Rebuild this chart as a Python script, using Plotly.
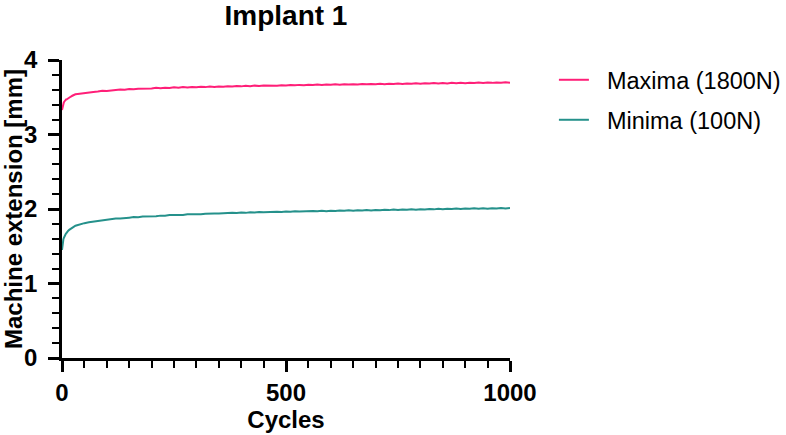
import plotly.graph_objects as go

cycles = [0, 1, 2, 3, 4, 5, 6, 7, 8, 9, 10, 12, 14, 16, 18, 20, 23, 26, 30, 35, 40, 45, 50,
          60, 70, 80, 90, 100, 110, 120, 130, 140, 150, 160, 170, 180, 190, 200,
          210, 220, 230, 240, 250, 260, 270, 280, 290, 300, 310, 320, 330, 340, 350,
          360, 370, 380, 390, 400, 410, 420, 430, 440, 450, 460, 470, 480, 490, 500,
          510, 520, 530, 540, 550, 560, 570, 580, 590, 600, 610, 620, 630, 640, 650,
          660, 670, 680, 690, 700, 710, 720, 730, 740, 750, 760, 770, 780, 790, 800,
          810, 820, 830, 840, 850, 860, 870, 880, 890, 900, 910, 920, 930, 940, 950,
          960, 970, 980, 990, 1000]

maxima = [3.33, 3.37, 3.40, 3.42, 3.43, 3.44, 3.45, 3.46, 3.46, 3.47, 3.47, 3.48, 3.49, 3.50, 3.50,
          3.51, 3.52, 3.53, 3.54, 3.545, 3.55, 3.555, 3.56,
          3.568, 3.572, 3.576, 3.586, 3.584, 3.596, 3.598, 3.604, 3.601, 3.612, 3.608, 3.615,
          3.613, 3.621, 3.618, 3.626, 3.622, 3.629, 3.624, 3.633, 3.627, 3.636, 3.631, 3.638,
          3.634, 3.641, 3.636, 3.643, 3.638, 3.645, 3.640, 3.648, 3.644, 3.651, 3.646, 3.653,
          3.648, 3.656, 3.651, 3.658, 3.654, 3.660, 3.655, 3.662, 3.658, 3.665, 3.660, 3.666,
          3.661, 3.668, 3.663, 3.670, 3.665, 3.672, 3.667, 3.673, 3.668, 3.675, 3.670, 3.676,
          3.671, 3.678, 3.673, 3.679, 3.674, 3.681, 3.676, 3.682, 3.677, 3.684, 3.679, 3.686,
          3.680, 3.687, 3.682, 3.689, 3.684, 3.690, 3.685, 3.691, 3.686, 3.693, 3.688, 3.694,
          3.689, 3.695, 3.690, 3.697, 3.692, 3.698, 3.693, 3.699, 3.694, 3.700, 3.696]

minima = [1.45, 1.52, 1.56, 1.59, 1.61, 1.63, 1.64, 1.65, 1.66, 1.67, 1.68, 1.69, 1.71, 1.72, 1.73,
          1.74, 1.75, 1.76, 1.775, 1.785, 1.795, 1.80, 1.81,
          1.821, 1.829, 1.841, 1.846, 1.857, 1.861, 1.872, 1.871, 1.882, 1.884, 1.891, 1.889,
          1.898, 1.897, 1.906, 1.903, 1.911, 1.909, 1.918, 1.916, 1.924, 1.921, 1.928, 1.926,
          1.933, 1.929, 1.937, 1.934, 1.941, 1.938, 1.945, 1.942, 1.949, 1.945, 1.952, 1.948,
          1.956, 1.952, 1.959, 1.955, 1.961, 1.957, 1.964, 1.960, 1.967, 1.962, 1.969, 1.965,
          1.971, 1.967, 1.973, 1.969, 1.976, 1.971, 1.978, 1.973, 1.980, 1.975, 1.982, 1.977,
          1.984, 1.979, 1.986, 1.981, 1.988, 1.983, 1.990, 1.985, 1.992, 1.987, 1.994, 1.989,
          1.996, 1.991, 1.998, 1.993, 2.000, 1.995, 2.002, 1.997, 2.004, 1.999, 2.006, 2.001,
          2.007, 2.002, 2.009, 2.004, 2.010, 2.005, 2.011, 2.006, 2.012, 2.007, 2.012]

series_names = ["Maxima (1800N)", "Minima (100N)"]
x_ticks = [0, 500, 1000]
y_ticks = [0, 1, 2, 3, 4]

FONT = "Liberation Sans, Arial, sans-serif"
PINK = "#FF1F78"
TEAL = "#25918B"
GAP = "\u00a0\u00a0"  # visual gap between legend line and label

fig = go.Figure()
fig.add_trace(go.Scatter(x=cycles, y=maxima, mode="lines", name=GAP + series_names[0],
                         line=dict(color=PINK, width=2), legend="legend", showlegend=True))
fig.add_trace(go.Scatter(x=cycles, y=minima, mode="lines", name=GAP + series_names[1],
                         line=dict(color=TEAL, width=2), legend="legend2", showlegend=True))

axis_common = dict(showgrid=False, zeroline=False, showline=True, linecolor="black",
                   linewidth=2.5, ticks="outside", ticklen=11, tickwidth=2.5,
                   tickcolor="black", automargin=False,
                   tickfont=dict(family=FONT, size=24, color="black", weight="bold"))

fig.update_xaxes(range=[0, 1000], tickvals=x_ticks,
                 minor=dict(dtick=50, ticks="outside", ticklen=7, tickwidth=2, tickcolor="black"),
                 title=dict(text="Cycles", font=dict(family=FONT, size=24, color="black", weight="bold"),
                            standoff=6),
                 **axis_common)
fig.update_yaxes(range=[0, 4], tickvals=y_ticks, ticklabelstandoff=6,
                 minor=dict(dtick=0.2, ticks="outside", ticklen=7, tickwidth=2, tickcolor="black"),
                 title=dict(text="Machine extension [mm]",
                            font=dict(family=FONT, size=24, color="black", weight="bold"),
                            standoff=3),
                 **axis_common)

legend_common = dict(font=dict(family=FONT, size=23.5, color="black"), bgcolor="rgba(0,0,0,0)",
                     itemwidth=30, xanchor="left", yanchor="middle")

fig.update_layout(
    width=786, height=435,
    showlegend=True,
    margin=dict(l=62, r=276, t=60, b=77, autoexpand=False),
    paper_bgcolor="white", plot_bgcolor="white",
    title=dict(text="Implant 1", x=(62 + 510) / 2 / 786, xanchor="center", y=1 - 15 / 435,
               yanchor="middle", automargin=False,
               font=dict(family=FONT, size=28, color="black", weight="bold")),
    legend=dict(x=1.098, y=1 - 20 / 298, **legend_common),
    legend2=dict(x=1.098, y=1 - 60 / 298, **legend_common),
)

fig.write_html("out.html", config={"displayModeBar": False},
               post_script="document.body.style.margin='0px';")
